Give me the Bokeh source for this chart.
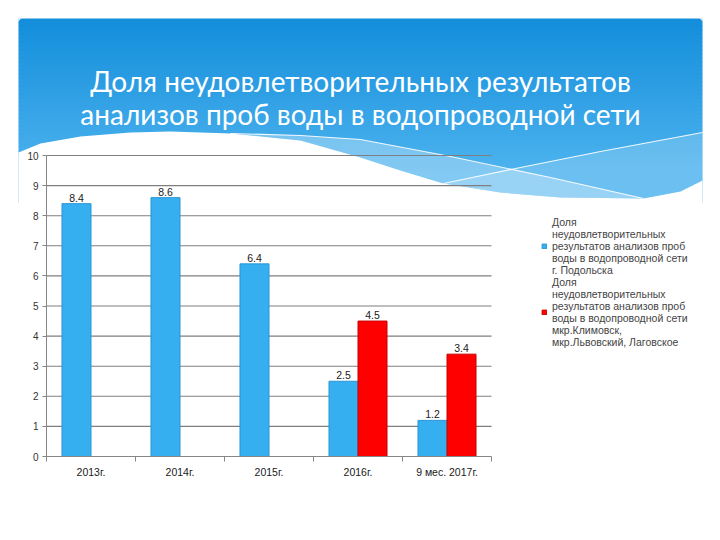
from bokeh.plotting import figure
from bokeh.models import Range1d, LinearAxis, FixedTicker, Legend, LegendItem, ColumnDataSource
from bokeh.embed import file_html
from bokeh.resources import INLINE
from bokeh.core.properties import value

# ---------------- data ----------------
categories = ["2013г.", "2014г.", "2015г.", "2016г.", "9 мес. 2017г."]
podolsk = [8.4, 8.6, 6.4, 2.5, 1.2]
klimovsk = [None, None, None, 4.5, 3.4]
y_ticks = [0, 1, 2, 3, 4, 5, 6, 7, 8, 9, 10]
title_lines = ["Доля неудовлетворительных результатов",
               "анализов проб воды в водопроводной сети"]
legend_labels = [
    "Доля\nнеудовлетворительных\nрезультатов анализов проб\nводы в водопроводной сети\nг. Подольска",
    "Доля\nнеудовлетворительных\nрезультатов анализов проб\nводы в водопроводной сети\nмкр.Климовск,\nмкр.Львовский, Лаговское",
]

# ---------------- layout constants (pixels) ----------------
W, H = 720, 540
X0PX, CATPX = 46.0, 89.0      # left of axis, width of one category
Y0PX, UNITPX = 456.0, 30.1    # y pixel of value 0, pixels per unit
BAR_W = 0.326
OFF = 0.163
FONT_NAME = "Liberation Sans"
FONT = value(FONT_NAME)

p = figure(width=W, height=H,
           x_range=Range1d(-X0PX / CATPX, (W - X0PX) / CATPX),
           y_range=Range1d(-(H - Y0PX) / UNITPX, Y0PX / UNITPX),
           min_border=0, x_axis_type=None, y_axis_type=None,
           output_backend="svg", toolbar_location=None,
           outline_line_color=None, background_fill_color="white",
           border_fill_color="white")
p.grid.visible = False
p.extra_x_ranges = {"px": Range1d(0, W)}
p.extra_y_ranges = {"py": Range1d(H, 0)}
PX = dict(x_range_name="px", y_range_name="py")

# ---------------- header banner (decoration) ----------------
def lerp(c1, c2, t):
    return "#%02x%02x%02x" % tuple(int(round(a + (b - a) * t)) for a, b in zip(c1, c2))

top_c, bot_c = (20, 142, 219), (76, 178, 238)
n = 46
y_edges = [18 + i * (202 - 18) / n for i in range(n + 1)]
cols = [lerp(top_c, bot_c, min(1.0, (y_edges[i] - 18) / 150.0)) for i in range(n)]
p.quad(left=18, right=702, top=y_edges[:-1], bottom=[y + 0.6 for y in y_edges[1:]],
       fill_color=cols, line_color=None, **PX)
# rounded top corners
for cx, sx in ((18, 1), (702, -1)):
    xs = [cx, cx + sx * 4, cx + sx * 2.2, cx + sx * 1.1, cx + sx * 0.3, cx]
    ys = [18, 18, 18.6, 19.4, 20.6, 22]
    p.patch(xs, ys, fill_color="white", line_color=None, **PX)

boundary = [(18, 152), (40, 143), (80, 136), (130, 132), (170, 131), (230, 133),
            (300, 140), (360, 157), (400, 170), (443, 183), (500, 192), (560, 197),
            (643, 198), (680, 191), (702, 180)]

l1 = [(230, 133), (300, 135), (360, 139), (450, 156), (550, 177), (643, 198)]
band1 = l1 + [pt for pt in reversed(boundary) if 230 < pt[0] < 643]
p.patch([a for a, b in band1], [b for a, b in band1], fill_color="white", fill_alpha=0.3,
        line_color=None, **PX)
l2 = [(443, 183), (520, 167), (600, 151), (702, 132)]
band2 = l2 + [(702, 180)] + [pt for pt in reversed(boundary) if 443 < pt[0] < 702]
p.patch([a for a, b in band2], [b for a, b in band2], fill_color="white", fill_alpha=0.18,
        line_color=None, **PX)
wave = boundary + [(702, 206), (18, 206)]
p.patch([a for a, b in wave], [b for a, b in wave], fill_color="white", line_color=None, **PX)
p.line([a for a, b in l1], [b for a, b in l1], line_color="white", line_width=1.2, line_alpha=0.9, **PX)
p.line([a for a, b in l2], [b for a, b in l2], line_color="white", line_width=1.2, line_alpha=0.9, **PX)

p.text(x=[360, 360], y=[80, 113], text=title_lines, text_align="center",
       text_baseline="alphabetic", text_color="white", text_font=value("Lato"),
       text_font_size="28px", **PX)

# ---------------- chart ----------------
grid_y = y_ticks[1:]
p.segment(x0=[0] * len(grid_y), x1=[len(categories)] * len(grid_y), y0=grid_y, y1=grid_y,
          line_color="#7f7f7f", line_width=1.1)

centers = [i + 0.5 for i in range(len(categories))]
src_b = ColumnDataSource(dict(x=[c - OFF for c in centers], top=podolsk,
                              lab=["%.1f" % v for v in podolsk]))
kx = [centers[i] + OFF for i, v in enumerate(klimovsk) if v is not None]
kv = [v for v in klimovsk if v is not None]
src_r = ColumnDataSource(dict(x=kx, top=kv, lab=["%.1f" % v for v in kv]))

rb = p.vbar(x="x", top="top", bottom=0, width=BAR_W, source=src_b,
            fill_color="#36aff1", line_color="#2a95d4", line_width=1)
rr = p.vbar(x="x", top="top", bottom=0, width=BAR_W, source=src_r,
            fill_color="#ff0000", line_color="#c80000", line_width=1)

for s in (src_b, src_r):
    p.text(x="x", y="top", text="lab", source=s, text_align="center",
           text_baseline="bottom", y_offset=-2, text_font=FONT,
           text_font_size="10.5px", text_color="#1a1a1a")

yaxis = LinearAxis(fixed_location=0, ticker=FixedTicker(ticks=y_ticks), bounds=(0, 10),
                   axis_line_color="#868686", major_tick_line_color="#868686",
                   major_tick_out=4, major_tick_in=0, minor_tick_line_color=None,
                   major_label_text_font=FONT_NAME, major_label_text_font_size="10px",
                   major_label_text_color="#333333", major_label_standoff=4)
p.add_layout(yaxis, "left")

xaxis = LinearAxis(fixed_location=0,
                   ticker=FixedTicker(ticks=centers, minor_ticks=list(range(len(categories) + 1))),
                   bounds=(0, len(categories)),
                   major_label_overrides={c: lab for c, lab in zip(centers, categories)},
                   axis_line_color="#868686", major_tick_line_color=None,
                   major_tick_out=0, major_tick_in=0,
                   minor_tick_line_color="#868686", minor_tick_out=5, minor_tick_in=0,
                   major_label_text_font=FONT_NAME, major_label_text_font_size="10.5px",
                   major_label_text_color="#1a1a1a", major_label_standoff=4)
p.add_layout(xaxis, "below")

legend = Legend(items=[LegendItem(label=legend_labels[0], renderers=[rb]),
                       LegendItem(label=legend_labels[1], renderers=[rr])],
                location=(541, 192), label_text_font=FONT_NAME, label_text_font_size="10.5px",
                label_text_line_height=1.06, glyph_width=6, glyph_height=6,
                label_standoff=5, spacing=0, padding=0, margin=0,
                border_line_color=None, background_fill_alpha=0)
p.add_layout(legend)

open("out.html", "w").write(file_html(p, INLINE))
